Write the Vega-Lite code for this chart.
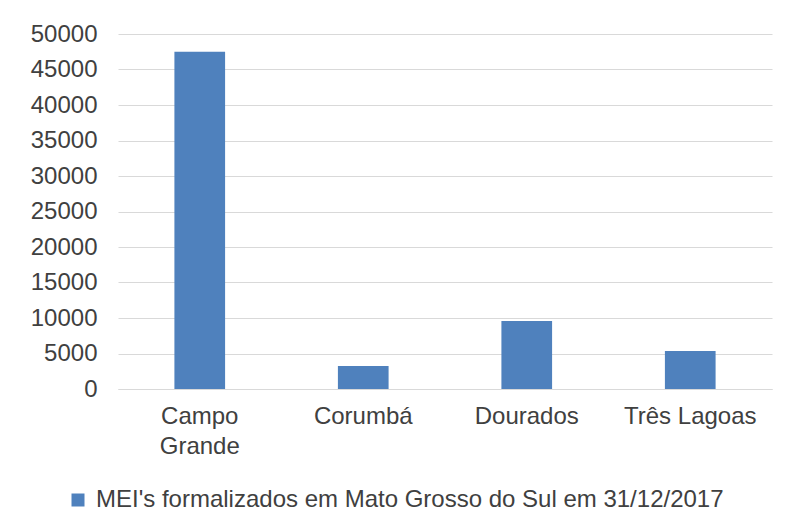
{
  "$schema": "https://vega.github.io/schema/vega-lite/v6.json",
  "width": 654,
  "height": 355,
  "autosize": {"type": "none"},
  "padding": {"left": 118, "top": 34, "right": 15, "bottom": 143},
  "background": "white",
  "data": {
    "values": [
      {"cidade": "Campo Grande", "mei": 47500, "serie": "MEI's formalizados em Mato Grosso do Sul em 31/12/2017"},
      {"cidade": "Corumbá", "mei": 3250, "serie": "MEI's formalizados em Mato Grosso do Sul em 31/12/2017"},
      {"cidade": "Dourados", "mei": 9580, "serie": "MEI's formalizados em Mato Grosso do Sul em 31/12/2017"},
      {"cidade": "Três Lagoas", "mei": 5350, "serie": "MEI's formalizados em Mato Grosso do Sul em 31/12/2017"}
    ]
  },
  "mark": {"type": "bar", "color": "#4f81bd"},
  "encoding": {
    "x": {
      "field": "cidade",
      "type": "nominal",
      "sort": null,
      "scale": {"paddingInner": 0.69, "paddingOuter": 0.345},
      "axis": {
        "title": null,
        "labelAngle": 0,
        "ticks": false,
        "domainColor": "#d9d9d9",
        "labelPadding": 15,
        "labelFont": "Liberation Sans",
        "labelFontSize": 24,
        "labelColor": "#404040",
        "labelLineHeight": 30,
        "labelLimit": 300,
        "labelExpr": "datum.label == 'Campo Grande' ? ['Campo', 'Grande'] : datum.label"
      }
    },
    "y": {
      "field": "mei",
      "type": "quantitative",
      "scale": {"domain": [0, 50000]},
      "axis": {
        "title": null,
        "values": [0, 5000, 10000, 15000, 20000, 25000, 30000, 35000, 40000, 45000, 50000],
        "format": "d",
        "domain": false,
        "ticks": false,
        "gridColor": "#d9d9d9",
        "labelPadding": 21,
        "labelFont": "Liberation Sans",
        "labelFontSize": 24,
        "labelColor": "#404040"
      }
    },
    "color": {
      "field": "serie",
      "type": "nominal",
      "scale": {"range": ["#4f81bd"]},
      "legend": {
        "title": null,
        "orient": "none",
        "legendX": -52,
        "legendY": 454,
        "symbolType": "square",
        "symbolSize": 169,
        "labelFont": "Liberation Sans",
        "labelFontSize": 24,
        "labelColor": "#404040",
        "labelLimit": 800,
        "labelOffset": 6
      }
    }
  },
  "config": {"view": {"stroke": null}}
}
